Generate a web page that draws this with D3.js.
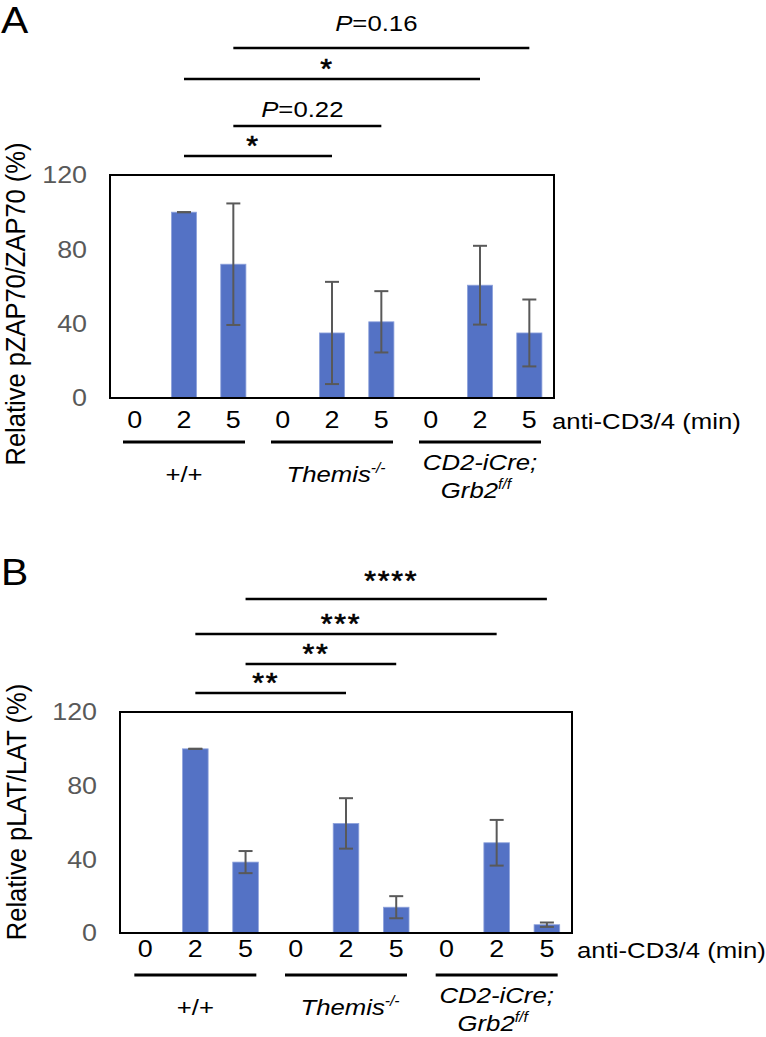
<html>
<head><meta charset="utf-8"></head>
<body style="margin:0; background:#fff">
<div id="fig"></div>

<script src="https://cdn.jsdelivr.net/npm/d3@7/dist/d3.min.js"></script>

<script type="text/javascript">
// categories: genotype x stimulation time
var times = ["0", "2", "5"]
var genotypes = ["wt", "themis", "grb2"]
var categories = ["wt-0", "wt-2", "wt-5", "themis-0", "themis-2", "themis-5", "grb2-0", "grb2-2", "grb2-5"]
var yTicks = [0, 40, 80, 120]

// panel A : relative pZAP70/ZAP70 (%), mean and error
var zapMean = [0, 100, 72, 0, 35, 41, 0, 60.7, 35]
var zapErr  = [0, 0, 32.7, 0, 27.5, 16.5, 0, 21.2, 18]
var zapSig  = [
  {from: "wt-5", to: "grb2-5", label: "P=0.16"},
  {from: "wt-2", to: "grb2-2", label: "*"},
  {from: "wt-5", to: "themis-5", label: "P=0.22"},
  {from: "wt-2", to: "themis-2", label: "*"}
]

// panel B : relative pLAT/LAT (%)
var latMean = [0, 100, 38.5, 0, 59.5, 14, 0, 49, 4.5]
var latErr  = [0, 0, 6, 0, 13.7, 6, 0, 12.4, 1.2]
var latSig  = [
  {from: "wt-5", to: "grb2-5", label: "****"},
  {from: "wt-2", to: "grb2-2", label: "***"},
  {from: "wt-5", to: "themis-5", label: "**"},
  {from: "wt-2", to: "themis-2", label: "**"}
]

var W = 766, H = 1037
var SX = 1.12          // the figure text is a little wide
var font = "Liberation Sans, Arial, sans-serif"
var barColor = "#5472c5"
var errColor = "#595959"

var panels = [
  {letter: "A", mean: zapMean, err: zapErr, sig: zapSig, title: "Relative pZAP70/ZAP70 (%)",
   left: 110, right: 554, top: 175, bottom: 398, letterY: 33, sigY: [48, 79, 126, 156],
   tickPad: 13, unitX: 552, groupLineY: 442, titleX: 25, titleY: 304},
  {letter: "B", mean: latMean, err: latErr, sig: latSig, title: "Relative pLAT/LAT (%)",
   left: 120, right: 572, top: 712, bottom: 933, letterY: 585, sigY: [599, 634, 664, 693],
   tickPad: 7, unitX: 577, groupLineY: 975, titleX: 26, titleY: 812}
]

var svg = d3.select("#fig")
  .append("svg")
  .attr("width", W)
  .attr("height", H)
  .style("font-family", font)

// text that is slightly stretched sideways
function txt(g, x, y, size) {
  return g.append("text")
    .attr("transform", "translate(" + x + "," + y + ") scale(" + SX + ",1)")
    .style("font-size", size + "px")
    .attr("fill", "#000")
}

var drawPanel = function(p) {
  var g = svg.append("g")

  var x = d3.scaleBand().domain(categories).range([p.left, p.right]).paddingInner(0.49).paddingOuter(0.245)
  var xg = d3.scaleBand().domain(genotypes).range([p.left, p.right])
  var y = d3.scaleLinear().domain([0, 120]).range([p.bottom, p.top])
  var cx = function(c) { return x(c) + x.bandwidth() / 2 }

  // panel letter
  txt(g, 1, p.letterY, 36.5).text(p.letter)

  // bars
  g.selectAll("rect.bar")
    .data(categories)
    .enter()
    .append("rect")
    .attr("class", "bar")
    .attr("x", d => x(d))
    .attr("width", x.bandwidth())
    .attr("y", (d, i) => y(p.mean[i]))
    .attr("height", (d, i) => y(0) - y(p.mean[i]))
    .attr("fill", barColor)
    .attr("stroke", "#8fa3dc")
    .attr("stroke-width", 0.8)

  // error bars
  var eb = g.selectAll("g.err")
    .data(categories)
    .enter()
    .append("g")
    .attr("class", "err")
    .attr("stroke", errColor)
    .attr("stroke-width", 2)
  eb.append("line")
    .attr("x1", d => cx(d)).attr("x2", d => cx(d))
    .attr("y1", (d, i) => y(p.mean[i] + p.err[i]))
    .attr("y2", (d, i) => y(p.mean[i] - p.err[i]))
  eb.append("line")
    .attr("x1", d => cx(d) - 7).attr("x2", d => cx(d) + 7)
    .attr("y1", (d, i) => y(p.mean[i] + p.err[i]))
    .attr("y2", (d, i) => y(p.mean[i] + p.err[i]))
  eb.append("line")
    .attr("x1", d => cx(d) - 7).attr("x2", d => cx(d) + 7)
    .attr("y1", (d, i) => y(p.mean[i] - p.err[i]))
    .attr("y2", (d, i) => y(p.mean[i] - p.err[i]))

  // frame
  g.append("rect")
    .attr("x", p.left).attr("y", p.top)
    .attr("width", p.right - p.left).attr("height", p.bottom - p.top)
    .attr("fill", "none").attr("stroke", "#000").attr("stroke-width", 2)

  // y tick labels
  var ya = g.append("g")
    .attr("transform", "translate(" + p.left + ",0)")
    .call(d3.axisLeft(y).tickValues(yTicks).tickSize(0).tickPadding(20.5).tickFormat(d3.format("d")))
  ya.select(".domain").remove()
  ya.selectAll("text")
    .attr("transform", "scale(" + SX + ",1)")
    .style("font-size", "24px").style("font-family", font).attr("fill", "#595959")

  // x tick labels
  var xa = g.append("g")
    .attr("transform", "translate(0," + p.bottom + ")")
    .call(d3.axisBottom(x).tickSize(0).tickPadding(p.tickPad).tickFormat((d, i) => times[i % 3]))
  xa.select(".domain").remove()
  xa.selectAll("text")
    .attr("transform", "scale(" + SX + ",1)")
    .style("font-size", "24px").style("font-family", font).attr("fill", "#000")

  txt(g, p.unitX, p.bottom + p.tickPad + 18, 23).text("anti-CD3/4 (min)")

  // y title
  g.append("text")
    .attr("transform", "translate(" + p.titleX + "," + p.titleY + ") scale(" + SX + ",1) rotate(-90)")
    .attr("text-anchor", "middle")
    .style("font-size", "25.5px")
    .text(p.title)

  // genotype underlines and labels
  g.selectAll("line.grp")
    .data(genotypes)
    .enter()
    .append("line")
    .attr("x1", d => xg(d) + xg.bandwidth() / 2 - 61)
    .attr("x2", d => xg(d) + xg.bandwidth() / 2 + 61)
    .attr("y1", p.groupLineY).attr("y2", p.groupLineY)
    .attr("stroke", "#000").attr("stroke-width", 3)

  var gc = function(k) { return xg(k) + xg.bandwidth() / 2 }
  txt(g, gc("wt"), p.groupLineY + 40, 23).attr("text-anchor", "middle").text("+/+")
  var th = txt(g, gc("themis") + 4, p.groupLineY + 40, 23).attr("text-anchor", "middle").style("font-style", "italic")
  th.append("tspan").text("Themis")
  th.append("tspan").attr("dy", -9).style("font-size", "14px").text("-/-")
  txt(g, gc("grb2"), p.groupLineY + 28, 23).attr("text-anchor", "middle").style("font-style", "italic").text("CD2-iCre;")
  var gr = txt(g, gc("grb2") - 4, p.groupLineY + 56, 23).attr("text-anchor", "middle").style("font-style", "italic")
  gr.append("tspan").text("Grb2")
  gr.append("tspan").attr("dy", -9).style("font-size", "14px").text("f/f")

  // significance bars
  p.sig.forEach(function(s, i) {
    var ly = p.sigY[i]
    var x1 = cx(s.from), x2 = cx(s.to)
    g.append("line")
      .attr("x1", x1).attr("x2", x2)
      .attr("y1", ly).attr("y2", ly)
      .attr("stroke", "#000").attr("stroke-width", 2.6)
    var star = s.label[0] == "*"
    var gap = (i == 0 ? 8 : 0) + (star ? 1 : 9)
    var t = txt(g, (x1 + x2) / 2 - 5, ly - gap, star ? 27 : 23).attr("text-anchor", "middle")
    if (star) {
      t.style("letter-spacing", "1.5px")
        .attr("stroke", "#000").attr("stroke-width", 0.6)
        .text(s.label)
    } else {
      t.append("tspan").style("font-style", "italic").text("P")
      t.append("tspan").text(s.label.slice(1))
    }
  })
}

panels.forEach(drawPanel)
</script>
</body>
</html>
